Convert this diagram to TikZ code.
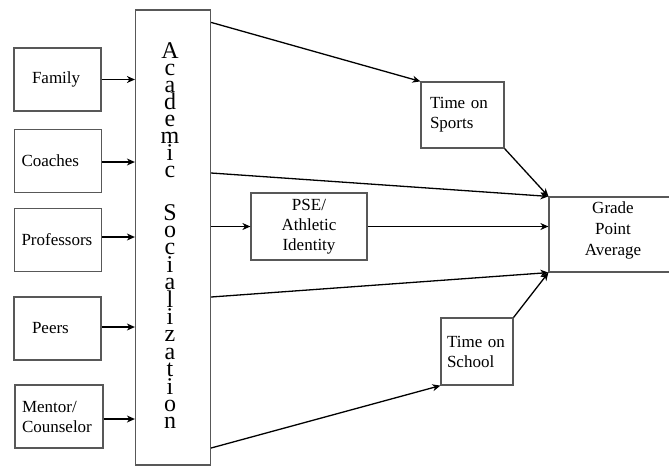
\documentclass[tikz,border=0pt]{standalone}
\usepackage{fontspec}
\setmainfont{Liberation Serif}
\usetikzlibrary{arrows.meta}
\definecolor{boxgray}{HTML}{585858}
\tikzset{
  base/.style={draw=boxgray, line width=1.2pt, inner ysep=0pt, font={\fontsize{17}{20}\selectfont}},
  lbox/.style={base, minimum width=87pt, minimum height=63pt, align=left},
  rbox/.style={base, minimum height=67pt},
  conn/.style={line width=1.3pt, -{Stealth[length=8pt,width=7pt,inset=2.5pt]}},
  plain/.style={line width=1.3pt}
}
\begin{document}
\begin{tikzpicture}[x=1pt,y=-1pt]
\useasboundingbox (0,0) rectangle (669,466);
% big box
\node[draw=boxgray, line width=1.2pt, minimum width=75pt, minimum height=455pt, inner sep=0pt] (acad) at (173,237.5) {};
\node[inner sep=0pt, align=center, anchor=north, font={\fontsize{24}{17}\selectfont}] (acadtext) at (170,42)
  {A\\c\\a\\d\\e\\m\\i\\c\\[26pt]S\\[0.4pt]o\\[0.4pt]c\\[0.4pt]i\\[0.4pt]a\\[0.4pt]l\\[0.4pt]i\\[0.4pt]z\\[0.4pt]a\\[0.4pt]t\\[0.4pt]i\\[0.4pt]o\\[0.4pt]n};
% left boxes
\node[lbox, inner xsep=18pt, text width=51pt] (family) at (57.5,79.5) {Family};
\node[lbox, inner xsep=7pt, text width=73pt] (coaches) at (58,161) {Coaches};
\node[lbox, inner xsep=7pt, text width=73pt] (professors) at (58,240) {Professors};
\node[lbox, inner xsep=18pt, text width=51pt] (peers) at (57.5,328.5) {Peers};
\node[lbox, inner xsep=7pt, text width=74pt] (mentor) at (59,416.5) {Mentor/\\Counselor};
% right boxes
\node[rbox, minimum height=66pt, inner xsep=9pt, text width=65pt, align=left] (sports) at (462.5,115) {Time on\\Sports};
\node[rbox, minimum width=116pt, align=center] (pse) at (309,226.5) {PSE/\\Athletic\\Identity};
\node[rbox, inner xsep=6pt, text width=60pt, align=left] (school) at (477,351.5) {Time on\\School};
\node[base, minimum width=128pt, minimum height=75pt] (gpa) at (613,234.5) {};
\node[font={\fontsize{17}{21}\selectfont}, align=center, inner sep=0pt] (gpatext) at (613,230.5) {Grade\\Point\\Average};
% left arrows
\draw[conn] (family.east) -- (family.east -| acad.west);
\draw[conn] ([yshift=-1pt]coaches.east) -- ([yshift=-1pt]coaches.east -| acad.west);
\draw[conn] ([yshift=3pt]professors.east) -- ([yshift=3pt]professors.east -| acad.west);
\draw[conn] ([yshift=1.5pt]peers.east) -- ([yshift=1.5pt]peers.east -| acad.west);
\draw[conn] ([yshift=-2.5pt]mentor.east) -- ([yshift=-2.5pt]mentor.east -| acad.west);
% right connectors
\draw[conn] ([yshift=-13pt]acad.north east) -- (sports.north west);
\draw[conn] ([yshift=64.5pt]acad.east) -- (gpa.north west);
\draw[conn] (sports.south east) -- (gpa.north west);
\draw[conn] (acad.east |- pse.west) -- (pse.west);
\draw[conn] (pse.east) -- (pse.east -| gpa.west);
\draw[conn] ([yshift=-59.5pt]acad.east) -- (gpa.south west);
\draw[conn] ([yshift=-210.5pt]acad.east) -- (school.south west);
\draw[conn] (school.north east) -- (gpa.south west);
\end{tikzpicture}
\end{document}
